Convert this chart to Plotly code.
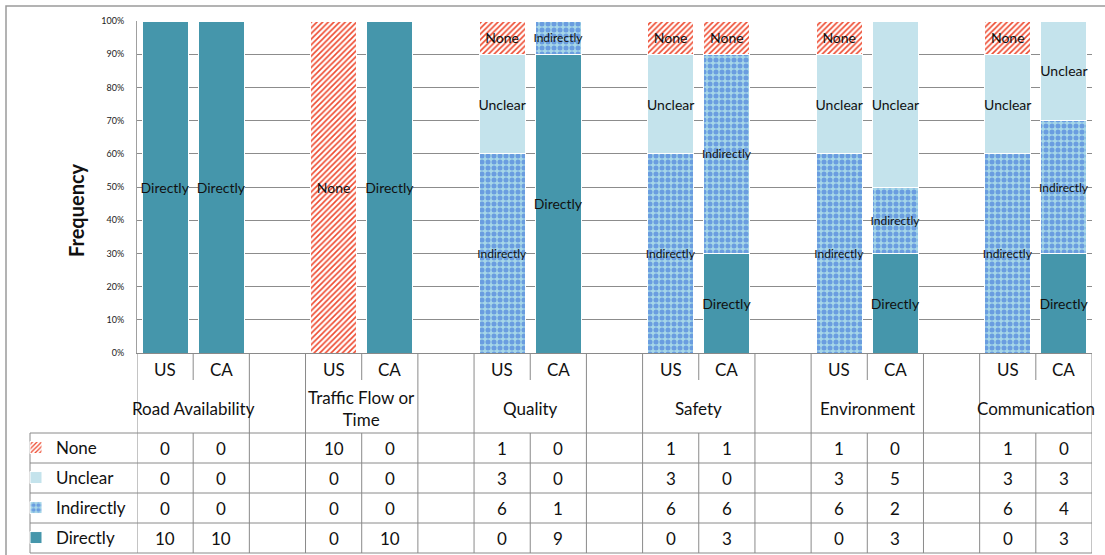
import plotly.graph_objects as go

# ---- data ----
groups = ["Road Availability", "Traffic Flow or<br>Time", "Quality", "Safety", "Environment", "Communication"]
countries = ["US", "CA"]
series_names = ["None", "Unclear", "Indirectly", "Directly"]   # table row order (top to bottom)
none_vals = [0, 0, 10, 0, 1, 0, 1, 1, 1, 0, 1, 0]
unclear_vals = [0, 0, 0, 0, 3, 0, 3, 0, 3, 5, 3, 3]
indirect_vals = [0, 0, 0, 0, 6, 1, 6, 6, 6, 2, 6, 4]
direct_vals = [10, 10, 0, 10, 0, 9, 0, 3, 0, 3, 0, 3]
y_ticks = [0, 10, 20, 30, 40, 50, 60, 70, 80, 90, 100]
y_tick_labels = [f"{v}%" for v in y_ticks]

values = {"None": none_vals, "Unclear": unclear_vals, "Indirectly": indirect_vals, "Directly": direct_vals}

# slot positions: US, CA, gap per group
x_pos = [3 * g + c for g in range(len(groups)) for c in range(len(countries))]
n_slots = 3 * len(groups) - 1

FONT = "Lato"
W, H = 1105, 555
L, R, T, B = 137, 1092, 21, 353


def X(px):
    return (px - L) / (R - L)


def Y(py):
    return (B - py) / (B - T)


styles = {
    "Directly": dict(color="#4596ab"),
    "Indirectly": dict(color="#a6d7e8", pattern=dict(shape=".", fgcolor="#6a9de0", bgcolor="#a6d7e8",
                                                     size=6, solidity=0.55, fillmode="replace")),
    "Unclear": dict(color="#c4e3ec"),
    "None": dict(color="white", pattern=dict(shape="/", fgcolor="#ee4a30", bgcolor="white",
                                             size=4, solidity=0.4, fillmode="replace")),
}
label_size = {"Directly": 14, "Indirectly": 12, "Unclear": 14, "None": 14}
legend_ids = {name: ("legend" if r == 0 else f"legend{r + 1}") for r, name in enumerate(series_names)}

fig = go.Figure()
for name in ["Directly", "Indirectly", "Unclear", "None"]:
    vals = values[name]
    fig.add_trace(go.Bar(
        x=x_pos, y=vals, name=name, legend=legend_ids[name],
        width=0.82,
        marker=dict(**styles[name], line=dict(color="white", width=1)),
        text=[name if v > 0 else "" for v in vals],
        textposition="inside", insidetextanchor="middle", textangle=0,
        constraintext="none",
        insidetextfont=dict(family=FONT, size=label_size[name], color="#111"),
        hoverinfo="skip",
    ))

ann = []
# US / CA labels
for i, xp in enumerate(x_pos):
    ann.append(dict(x=xp, y=Y(369), xref="x", yref="paper", text=countries[i % 2], showarrow=False,
                    font=dict(family=FONT, size=17, color="#111"), yanchor="middle"))
# group labels
for g, gname in enumerate(groups):
    ann.append(dict(x=3 * g + 0.5, y=Y(409), xref="x", yref="paper", text=gname, showarrow=False,
                    font=dict(family=FONT, size=17, color="#111"), yanchor="middle"))
# table values
for r, name in enumerate(series_names):
    for xp, v in zip(x_pos, values[name]):
        ann.append(dict(x=xp, y=Y(448 + 30 * r), xref="x", yref="paper", text=str(v), showarrow=False,
                        font=dict(family=FONT, size=17, color="#111"), yanchor="middle"))
# y title
ann.append(dict(x=X(62), y=Y(210), xref="paper", yref="paper", text="<b>Frequency</b>", textangle=-90,
                showarrow=False, font=dict(family=FONT, size=20, color="#111")))

line = dict(color="#8a8a8a", width=1)
shapes = []
# outer border
shapes.append(dict(type="rect", xref="paper", yref="paper", x0=X(6), x1=X(1130), y0=Y(6), y1=Y(580),
                   line=dict(color="#9a9a9a", width=1.5), layer="below"))
# table horizontal lines
for py in [433, 463, 493, 523, 553]:
    shapes.append(dict(type="line", xref="paper", yref="paper", x0=X(30), x1=1, y0=Y(py), y1=Y(py), line=line))
# table vertical lines
shapes.append(dict(type="line", xref="paper", yref="paper", x0=X(30), x1=X(30), y0=Y(433), y1=Y(553), line=line))
for b in range(n_slots + 1):
    xb = b - 0.5
    shapes.append(dict(type="line", xref="x", yref="paper", x0=xb, x1=xb, y0=Y(433), y1=Y(553), line=line))
    if b % 3 == 1:  # between US and CA
        shapes.append(dict(type="line", xref="x", yref="paper", x0=xb, x1=xb, y0=Y(353), y1=Y(380), line=line))
    else:
        shapes.append(dict(type="line", xref="x", yref="paper", x0=xb, x1=xb, y0=Y(353), y1=Y(433), line=line))

legend_layout = {}
for r, name in enumerate(series_names):
    legend_layout[legend_ids[name]] = dict(
        x=X(16), xanchor="left", y=Y(448 + 30 * r), yanchor="middle",
        font=dict(family=FONT, size=17, color="#111"),
        bgcolor="rgba(0,0,0,0)", itemclick=False, itemdoubleclick=False,
    )

fig.update_layout(
    width=W, height=H, autosize=False,
    margin=dict(l=L, r=W - R, t=T, b=H - B, pad=0, autoexpand=False),
    paper_bgcolor="white", plot_bgcolor="white",
    barmode="stack", barnorm="percent",
    font=dict(family=FONT, color="#111"),
    xaxis=dict(range=[-0.5, n_slots - 0.5], showticklabels=False, showgrid=False, zeroline=False,
               showline=True, linecolor="#8a8a8a", linewidth=1, ticks=""),
    yaxis=dict(range=[0, 100], tickmode="array", tickvals=y_ticks, ticktext=y_tick_labels,
               showgrid=True, gridcolor="#8c8c8c",
               gridwidth=1, zeroline=False, showline=True, linecolor="#a0a0a0", linewidth=1,
               tickfont=dict(family=FONT, size=9, color="#222"), ticklabelstandoff=10, ticks=""),
    showlegend=True,
    annotations=ann, shapes=shapes,
    **legend_layout,
)

fig.write_html("out.html")
